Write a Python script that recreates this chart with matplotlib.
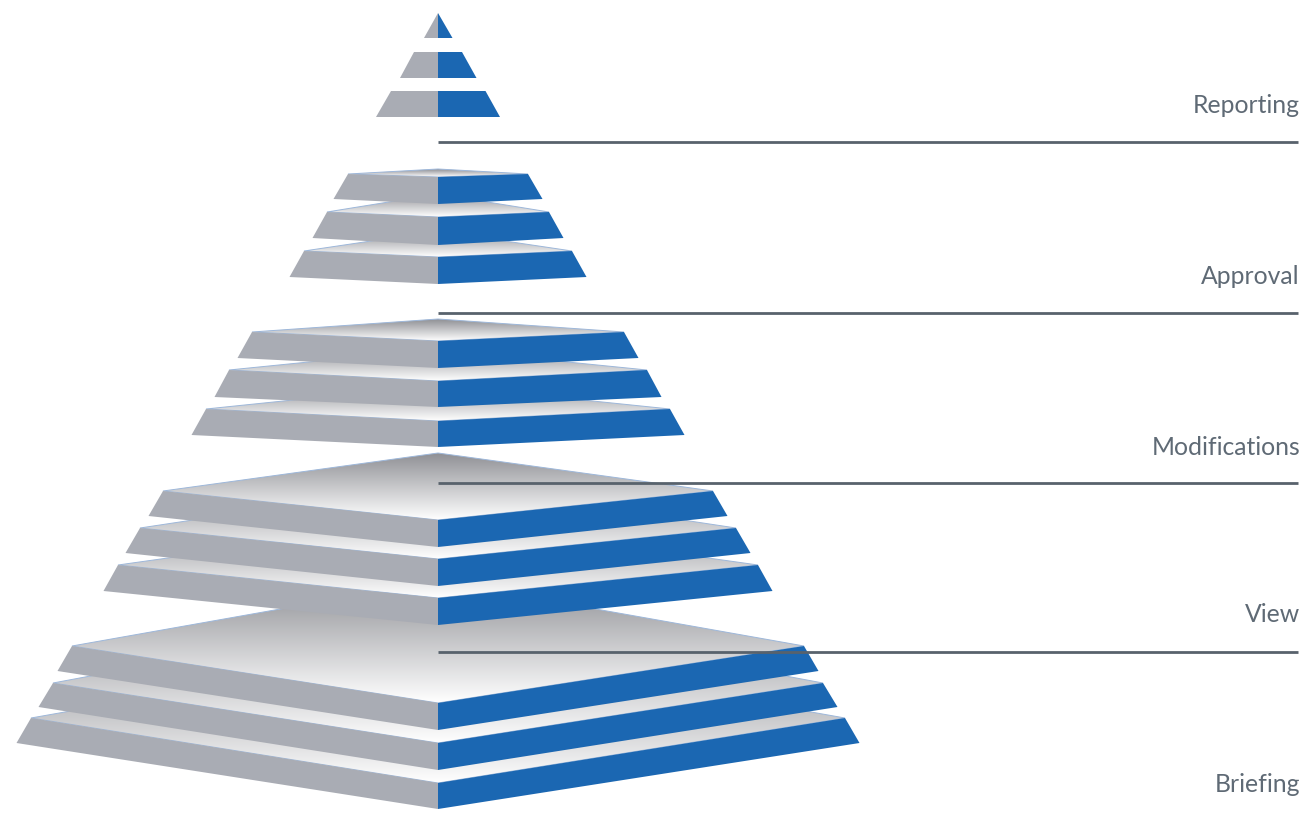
import numpy as np
import matplotlib.pyplot as plt
from matplotlib.patches import Polygon
from matplotlib.colors import LinearSegmentedColormap

# stages, top of the pyramid first
stages = ["Reporting", "Approval", "Modifications", "View", "Briefing"]

# three slabs per stage, upper slab first (pixel units of the picture)
slab_half_width = [[0, 24, 47.5], [90, 111, 134], [186, 209, 232], [275, 298, 320], [366, 385, 407]]
slab_corner_y = [[13, 52, 91], [174, 212, 251], [332, 370, 409], [491, 528, 565], [646, 683, 718]]
slab_back_rise = [[0, 0, 0], [5, 18, 20], [13, 21, 24], [38, 45, 45], [65, 72, 72]]
slab_front_drop = [[0, 0, 0], [3, 5, 6], [9, 11, 12], [29, 31, 33], [57, 60, 65]]
slab_thick = [[25, 26, 26], [27, 28, 27], [27, 26, 26], [27, 27, 27], [27, 27, 26]]
slab_side_thick = [[25, 26, 26], [25, 26, 26], [26, 27, 26], [25, 25, 26], [25, 24, 25]]

label_baseline = [113, 284, 455, 622, 792]
divider_y = [142, 313, 483, 652]

CX = 438
BEVEL = 14.5
GRAY = "#a9acb4"
BLUE = "#1b67b2"
TEXT = "#5f6a75"

top_cmap = LinearSegmentedColormap.from_list("top", ["#8f9095", "#ffffff"])
grad = np.linspace(0, 1, 256).reshape(-1, 1)

fig = plt.figure(figsize=(13.07, 8.15), dpi=100)
ax = fig.add_axes([0, 0, 1, 1])
ax.axis("off")

z = 1
# draw from the bottom stage up, and inside a stage from the lowest slab up
for g in range(len(stages) - 1, -1, -1):
    for s in range(2, -1, -1):
        w = slab_half_width[g][s]
        yc = slab_corner_y[g][s]
        b = slab_back_rise[g][s]
        f = slab_front_drop[g][s]
        t = slab_thick[g][s]
        ts = slab_side_thick[g][s]

        if b + f > 0:
            top = Polygon([(CX - w, yc), (CX, yc - b), (CX + w, yc), (CX, yc + f)],
                          closed=True, facecolor="none", edgecolor="#9db7da", lw=0.7, zorder=z + 1)
            ax.add_patch(top)
            im = ax.imshow(grad, cmap=top_cmap, aspect="auto", origin="upper",
                           extent=(CX - w, CX + w, yc + f, yc - b), zorder=z, interpolation="bilinear")
            im.set_clip_path(top)

        left = Polygon([(CX - w, yc), (CX, yc + f), (CX, yc + f + t), (CX - w - BEVEL, yc + ts)],
                       closed=True, facecolor=GRAY, edgecolor="none", zorder=z + 2)
        right = Polygon([(CX, yc + f), (CX + w, yc), (CX + w + BEVEL, yc + ts), (CX, yc + f + t)],
                        closed=True, facecolor=BLUE, edgecolor="none", zorder=z + 2)
        ax.add_patch(left)
        ax.add_patch(right)
        z += 3

for y in divider_y:
    ax.plot([CX, 1298], [y, y], color="#58626c", lw=2, solid_capstyle="butt", zorder=z + 5)

for name, y in zip(stages, label_baseline):
    ax.text(1300, y, name, ha="right", va="baseline", fontsize=17.8, color=TEXT,
            family="Lato", zorder=z + 5)

ax.set_xlim(0, 1307)
ax.set_ylim(815, 0)

plt.savefig("out.png", dpi=100)
